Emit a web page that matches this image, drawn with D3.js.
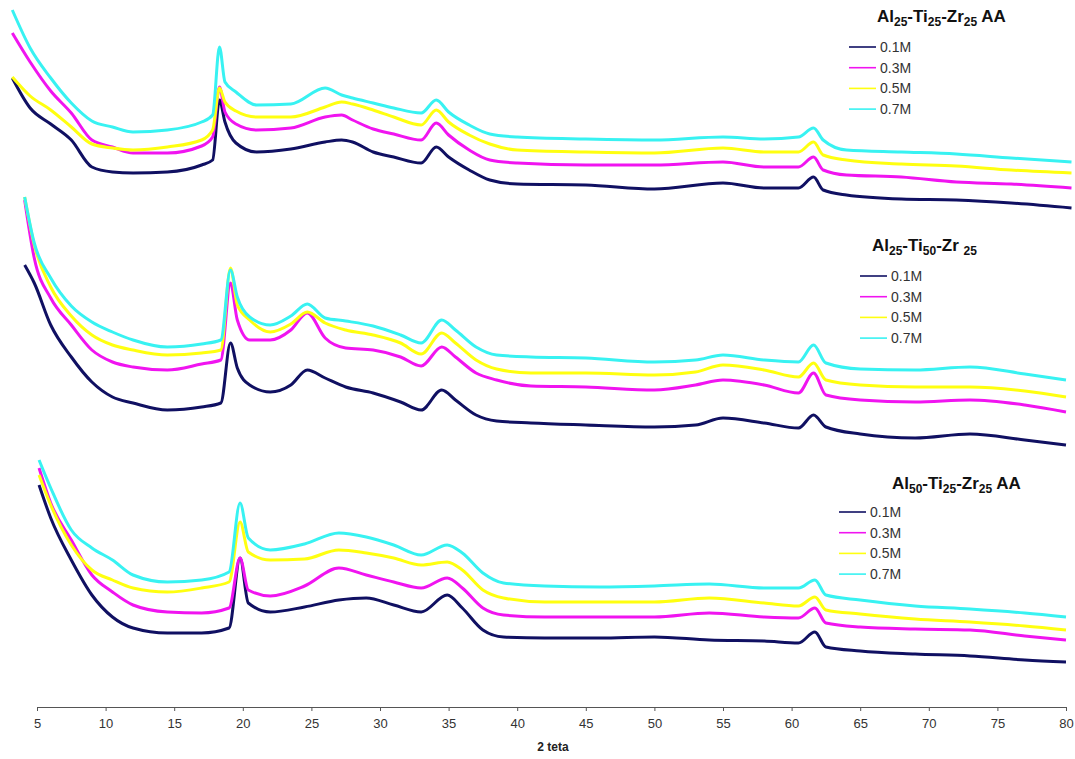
<!DOCTYPE html>
<html>
<head>
<meta charset="utf-8">
<script src="https://cdn.jsdelivr.net/npm/d3@7"></script>
<style>
  html, body { margin: 0; padding: 0; background: #ffffff; }
  svg { display: block; font-family: "Liberation Sans", Arial, sans-serif; }
</style>
</head>
<body>
<svg id="chart" width="1075" height="759"></svg>
<script>
// ---------------- DATA ----------------
const seriesNames = ["0.1M", "0.3M", "0.5M", "0.7M"];
const xTicks = [5, 10, 15, 20, 25, 30, 35, 40, 45, 50, 55, 60, 65, 70, 75, 80];
const xLabel = "2 teta";

// panel titles: [text, isSubscript]
const titleTop = [["Al", false], ["25", true], ["-Ti", false], ["25", true], ["-Zr", false], ["25", true], [" AA", false]];
const titleMid = [["Al", false], ["25", true], ["-Ti", false], ["50", true], ["-Zr ", false], ["25", true]];
const titleBot = [["Al", false], ["50", true], ["-Ti", false], ["25", true], ["-Zr", false], ["25", true], [" AA", false]];

// Panel 1: Al25-Ti25-Zr25 AA  (2θ, intensity a.u.)
const xTopPanel = [3.2, 4.5, 6, 7.5, 9, 10.5, 12, 14.5, 17, 17.8, 18.3, 18.7, 19.5, 21, 23.5, 26, 27.2, 28, 29.5, 31, 33, 34.1, 35, 36.5, 38, 40, 45, 50, 55, 58, 60.5, 61.6, 62.3, 64, 68, 72, 76, 80.4];
const top01 = [627, 597, 581, 565, 538, 533, 532, 533, 540, 545, 605, 583, 562, 553, 556, 563, 565, 563, 553, 548, 542, 558, 548, 535, 525, 521, 520, 516, 522, 517, 517, 528, 515, 510, 506, 505, 502, 497];
const top03 = [672, 643, 614, 592, 565, 558, 552, 552, 559, 568, 618, 593, 581, 575, 577, 588, 590, 585, 576, 571, 565, 582, 570, 555, 545, 542, 540, 540, 543, 538, 538, 548, 535, 530, 528, 523, 521, 517];
const top05 = [628, 609, 595, 578, 561, 557, 555, 558, 565, 575, 617, 603, 594, 588, 588, 598, 603, 601, 595, 588, 580, 595, 583, 570, 561, 555, 553, 552, 557, 553, 553, 563, 550, 545, 541, 539, 535, 532];
const top07 = [695, 657, 627, 602, 584, 578, 573, 575, 583, 590, 658, 623, 613, 600, 601, 617, 610, 607, 602, 597, 592, 605, 593, 580, 571, 568, 566, 565, 568, 566, 568, 577, 565, 555, 553, 551, 547, 543];

// Panel 2: Al25-Ti50-Zr25
const xMidPanel = [4.1, 4.8, 6, 7.5, 9, 10.5, 12, 14.5, 17, 18.4, 19.1, 19.6, 20.5, 22, 23.5, 24.7, 26, 27.5, 29.5, 31.5, 33, 34.5, 35.5, 37, 38.5, 41, 45, 50, 53, 55, 58, 60.5, 61.6, 62.5, 65, 69, 73, 77, 80];
const mid01 = [440, 422, 380, 348, 323, 308, 302, 295, 298, 302, 362, 337, 320, 313, 320, 335, 327, 318, 312, 303, 295, 315, 305, 290, 284, 282, 280, 278, 280, 287, 282, 277, 290, 278, 271, 267, 271, 265, 260];
const mid03 = [505, 447, 407, 380, 355, 343, 338, 335, 341, 345, 422, 385, 365, 365, 375, 392, 367, 357, 355, 348, 339, 358, 348, 332, 325, 319, 318, 315, 320, 325, 320, 312, 332, 310, 305, 303, 305, 300, 293];
const mid05 = [508, 460, 418, 389, 370, 360, 355, 350, 352, 355, 437, 400, 385, 373, 381, 393, 382, 375, 370, 362, 351, 372, 362, 345, 336, 332, 332, 330, 333, 340, 335, 328, 342, 325, 320, 318, 318, 314, 308];
const mid07 = [508, 462, 427, 399, 383, 373, 365, 358, 361, 365, 435, 408, 388, 380, 389, 401, 387, 384, 379, 370, 362, 385, 375, 358, 350, 348, 347, 343, 345, 350, 345, 343, 360, 342, 336, 335, 338, 331, 325];

// Panel 3: Al50-Ti25-Zr25 AA
const xBotPanel = [5.15, 6, 7.5, 9, 10.5, 12, 14.5, 17, 19, 19.8, 20.4, 22, 24.5, 27, 29, 31, 33, 34.9, 36, 37.5, 39, 42, 46, 50, 54, 58, 60.5, 61.7, 62.5, 65, 69, 73, 77, 80];
const bot01 = [220, 187, 145, 110, 88, 77, 72, 72, 77, 147, 102, 93, 98, 105, 107, 100, 93, 110, 97, 75, 68, 67, 67, 68, 65, 64, 62, 73, 58, 54, 51, 49, 45, 43];
const bot03 = [237, 202, 165, 130, 113, 100, 93, 92, 97, 147, 115, 109, 119, 137, 130, 123, 117, 127, 117, 97, 90, 88, 88, 88, 92, 88, 87, 97, 82, 78, 76, 75, 69, 65];
const bot05 = [230, 200, 160, 135, 125, 117, 113, 117, 123, 183, 153, 145, 146, 155, 152, 147, 140, 143, 135, 115, 107, 103, 103, 103, 107, 102, 99, 108, 95, 91, 86, 83, 79, 75];
const bot07 = [245, 217, 175, 157, 145, 130, 123, 125, 133, 202, 167, 155, 161, 172, 168, 160, 150, 160, 152, 132, 122, 119, 118, 119, 121, 117, 117, 125, 110, 105, 99, 96, 92, 88];

// ---------------- STYLE / LAYOUT ----------------
const colors = ["#101062", "#f014f0", "#ffff10", "#38f2f2"];

const panels = [
  { title: titleTop, x: xTopPanel, series: [top01, top03, top05, top07], titlePos: [877, 22], legendPos: [849, 47] },
  { title: titleMid, x: xMidPanel, series: [mid01, mid03, mid05, mid07], titlePos: [872, 251], legendPos: [860, 276] },
  { title: titleBot, x: xBotPanel, series: [bot01, bot03, bot05, bot07], titlePos: [892, 489], legendPos: [839, 512] }
];

const svg = d3.select("#chart");
const x = d3.scaleLinear().domain([5, 80]).range([37, 1066]);
const y = d3.scaleLinear().domain([0, 705]).range([705, 0]);
const axisY = 707;

const line = d3.line()
  .x(d => x(d[0]))
  .y(d => y(d[1]))
  .curve(d3.curveMonotoneX);

panels.forEach(p => {
  const g = svg.append("g");
  p.series.forEach((vals, i) => {
    const pts = p.x.map((xv, k) => [xv, vals[k]]);
    g.append("path")
      .attr("d", line(pts))
      .attr("fill", "none")
      .attr("stroke", colors[i])
      .attr("stroke-width", 3)
      .attr("stroke-linejoin", "round");
  });

  // title with subscripts
  const t = svg.append("text")
    .attr("x", p.titlePos[0])
    .attr("y", p.titlePos[1])
    .attr("font-size", 17)
    .attr("font-weight", "bold")
    .attr("fill", "#111");
  p.title.forEach(([txt, sub], i) => {
    const prevSub = i > 0 && p.title[i - 1][1];
    const ts = t.append("tspan").text(txt)
      .attr("dy", sub && !prevSub ? 4 : (!sub && prevSub ? -4 : 0));
    if (sub) ts.attr("font-size", 12);
  });

  // legend
  const lg = svg.append("g").attr("transform", `translate(${p.legendPos[0]},${p.legendPos[1]})`);
  seriesNames.forEach((name, i) => {
    const row = lg.append("g").attr("transform", `translate(0,${i * 20.7})`);
    row.append("line").attr("x1", 0).attr("x2", 27).attr("y1", 0).attr("y2", 0)
      .attr("stroke", colors[i]).attr("stroke-width", 1.6);
    row.append("text").attr("x", 31).attr("y", 0).attr("dy", "0.35em")
      .attr("font-size", 14).attr("fill", "#333").text(name);
  });
});

// x axis
const axis = d3.axisBottom(x).tickValues(xTicks).tickSize(4).tickSizeOuter(0).tickPadding(8);
const ag = svg.append("g").attr("transform", `translate(0,${axisY})`).call(axis);
ag.select(".domain").attr("stroke", "#555").attr("stroke-width", 1.2);
ag.selectAll(".tick line").attr("stroke", "#555");
ag.selectAll(".tick text").attr("font-size", 13).attr("fill", "#333")
  .attr("font-family", "\"Liberation Sans\", Arial, sans-serif");

svg.append("text")
  .attr("x", 553).attr("y", 751)
  .attr("text-anchor", "middle")
  .attr("font-size", 12).attr("font-weight", "bold").attr("fill", "#222")
  .text(xLabel);
</script>
</body>
</html>
